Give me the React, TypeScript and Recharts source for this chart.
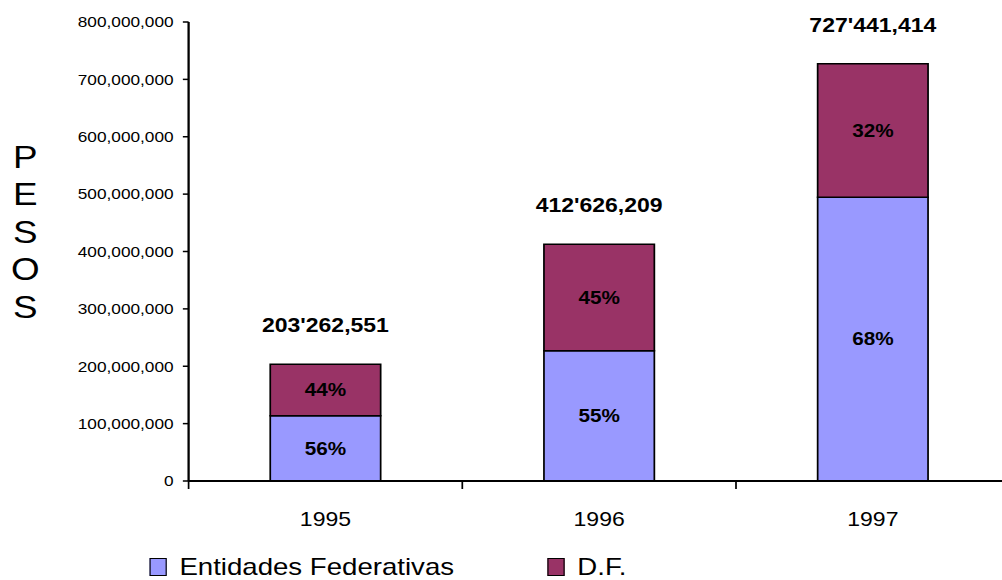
import { BarChart, Bar, XAxis, YAxis, Legend, LabelList } from 'recharts';

const FONT = '"Liberation Sans", Arial, sans-serif';

const years = ['1995', '1996', '1997'];
const entidades = [113800000, 227000000, 494700000];
const df = [89500000, 185600000, 232700000];
const entidadesPct = ['56%', '55%', '68%'];
const dfPct = ['44%', '45%', '32%'];
const totalLabels = ["203'262,551", "412'626,209", "727'441,414"];
const yTicks = [0, 100000000, 200000000, 300000000, 400000000, 500000000, 600000000, 700000000, 800000000];
const edgeTicks = [0, 1, 2, 3];
const axisTitle = ['P', 'E', 'S', 'O', 'S'];

const series = [
  { key: 'entidades', name: 'Entidades Federativas', color: '#9999FF' },
  { key: 'df', name: 'D.F.', color: '#993366' },
];

const data = years.map((year, i) => ({
  year,
  slot: i + 0.5,
  entidades: entidades[i],
  df: df[i],
  entidadesPct: entidadesPct[i],
  dfPct: dfPct[i],
  total: totalLabels[i],
}));

// the source picture is stretched sideways, so the whole chart is scaled in x
const STRETCH = 1.15;
const legendLeft = [130, 476];

function YearTick({ x, y, payload }: any) {
  return (
    <text x={x} y={y} dy={35} textAnchor="middle" fontSize={20} fill="#000" fontFamily={FONT}>
      {payload.value}
    </text>
  );
}

function PesosTitle() {
  return (
    <g>
      {axisTitle.map((ch, i) => (
        <text key={i} x={22} y={168 + i * 37.5} textAnchor="middle" fontSize={32} fill="#000" fontFamily={FONT}>
          {ch}
        </text>
      ))}
    </g>
  );
}

function LegendContent() {
  return (
    <div style={{ position: 'relative', height: 28, fontFamily: FONT }}>
      {series.map((s, i) => (
        <div key={s.key} style={{ position: 'absolute', left: legendLeft[i], top: 0, display: 'flex', alignItems: 'center', height: 28 }}>
          <span style={{ display: 'inline-block', width: 13, height: 16, background: s.color, border: '1.5px solid #000', marginRight: 11 }} />
          <span style={{ fontSize: 24, color: '#000', lineHeight: '28px' }}>{s.name}</span>
        </div>
      ))}
    </div>
  );
}

export default function App() {
  return (
    <div style={{ position: 'fixed', left: 0, top: 0, width: 1002, height: 580, overflow: 'hidden', background: '#fff' }}>
      <div style={{ width: 890, height: 580, transform: `scaleX(${STRETCH})`, transformOrigin: '0 0' }}>
        <BarChart width={890} height={580} data={data} margin={{ top: 22, right: 12, left: 0, bottom: 0 }}>
          <XAxis
            xAxisId={0}
            type="number"
            dataKey="slot"
            domain={[0, 3]}
            ticks={edgeTicks}
            allowDataOverflow
            height={10}
            tickSize={8}
            tick={() => <g />}
            axisLine={{ stroke: '#000', strokeWidth: 2 }}
            tickLine={{ stroke: '#000', strokeWidth: 1.5 }}
          />
          <XAxis
            xAxisId="years"
            dataKey="year"
            height={89}
            tickSize={0}
            tickMargin={0}
            axisLine={false}
            tickLine={false}
            tick={<YearTick />}
          />
          <YAxis
            width={164}
            domain={[0, 800000000]}
            ticks={yTicks}
            interval={0}
            tickFormatter={(v: number) => v.toLocaleString('en-US')}
            tick={{ fontSize: 15, fill: '#000', fontFamily: FONT }}
            tickSize={5}
            tickMargin={8}
            axisLine={{ stroke: '#000', strokeWidth: 2 }}
            tickLine={{ stroke: '#000', strokeWidth: 1.5 }}
            label={{ content: () => <PesosTitle /> }}
          />
          <Legend
            verticalAlign="middle"
            align="center"
            layout="horizontal"
            wrapperStyle={{ top: 553, left: 0, width: 890 }}
            content={<LegendContent />}
          />
          <Bar xAxisId="years" dataKey="entidades" name={series[0].name} stackId="a" fill={series[0].color} stroke="#000" strokeWidth={1.5} barSize={96} isAnimationActive={false}>
            <LabelList dataKey="entidadesPct" position="center" fill="#000" fontSize={18} fontWeight="bold" fontFamily={FONT} />
          </Bar>
          <Bar xAxisId="years" dataKey="df" name={series[1].name} stackId="a" fill={series[1].color} stroke="#000" strokeWidth={1.5} barSize={96} isAnimationActive={false}>
            <LabelList dataKey="dfPct" position="center" fill="#000" fontSize={18} fontWeight="bold" fontFamily={FONT} />
            <LabelList dataKey="total" position="top" offset={32} fill="#000" fontSize={20} fontWeight="bold" fontFamily={FONT} />
          </Bar>
        </BarChart>
      </div>
    </div>
  );
}
